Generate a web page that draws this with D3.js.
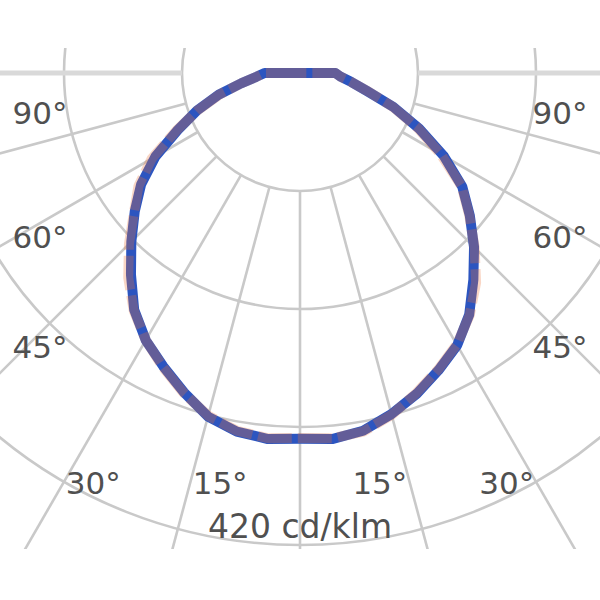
<!DOCTYPE html>
<html><head><meta charset="utf-8">
<script src="https://cdn.jsdelivr.net/npm/d3@7"></script>
<style>html,body{margin:0;padding:0;background:#fff}</style>
</head><body>
<svg id="c" width="600" height="600"></svg>
<script>
// gamma angles (degrees from nadir) and luminous intensities in cd/klm
const angles = [0,5,10,15,20,25,30,35,40,45,50,55,60,65,70,75,80,85,90];
const c0   = [434,436,431,419,405,389,373,350,320,292,263,235,197,156,118,82,62,48,42];
const c180 = [434,436,432,422,403,384,366,343,312,283,256,230,198,160,130,100,71,52,42];
const c90  = [433,435,432,420,404,388,372,351,325,293,262,234,193,154,117,83,62,48,42];
const c270 = [433,435,431,421,404,385,366,344,317,287,257,234,203,162,129,99,71,52,42];
const ringValues = [140,280,420,560];
const gridAngles = d3.range(-165,181,15);
const labelAngles = [90,60,45,30,15];
const unitLabel = "420 cd/klm";

const W = 600, H = 600, cx = 300, cy = 73;
const svg = d3.select("#c");
svg.append("defs").append("clipPath").attr("id","clip")
  .append("rect").attr("x",0).attr("y",48).attr("width",W).attr("height",501);

const r = d3.scaleLinear().domain([0,140]).range([0,118]);
const rad = d => d*Math.PI/180;

const root = svg.append("g").attr("clip-path","url(#clip)");
const g = root.append("g").attr("transform",`translate(${cx},${cy})`);

// rings
g.selectAll("circle.ring").data(ringValues).join("circle")
  .attr("class","ring").attr("r",d=>r(d))
  .attr("fill","none").attr("stroke","#c9c9c9").attr("stroke-width",2.6);

// radial lines
g.selectAll("line.spoke").data(gridAngles).join("line")
  .attr("class","spoke")
  .attr("x1",d=>Math.sin(rad(d))*r(ringValues[0]))
  .attr("y1",d=>Math.cos(rad(d))*r(ringValues[0]))
  .attr("x2",d=>Math.sin(rad(d))*900)
  .attr("y2",d=>Math.cos(rad(d))*900)
  .attr("stroke",d=>Math.abs(d)===90?"#d9d9d9":"#c9c9c9")
  .attr("stroke-width",d=>Math.abs(d)===90?5:2.6);

// curves
function pts(left, right){
  const p = [{a:2*Math.PI, v:0}];
  for(let i=angles.length-1;i>=0;i--) p.push({a:Math.PI+rad(angles[i]), v:left[i]});
  for(let i=1;i<angles.length;i++) p.push({a:Math.PI-rad(angles[i]), v:right[i]});
  p.push({a:0, v:0});
  return p;
}
const line = d3.lineRadial().angle(d=>d.a).radius(d=>r(d.v));
g.append("path").attr("d",line(pts(c180,c0)))
  .attr("fill","none").attr("stroke","#2c55c0").attr("stroke-width",10)
  .attr("stroke-linejoin","round");
g.append("path").attr("d",line(pts(c270,c90)))
  .attr("fill","none").attr("stroke","#ec7038").attr("stroke-width",10)
  .attr("stroke-opacity",0.29).attr("stroke-dasharray","34 6")
  .attr("stroke-linejoin","round");

// angle labels placed where spokes meet an inset frame
const frameX = 260, frameY = 410, sideNudge = 14, bottomNudge = 30, minY = 40;
function labelPos(deg, sign){
  const s = Math.sin(rad(deg)), c = Math.cos(rad(deg));
  const tx = s>1e-6 ? frameX/s : Infinity, ty = c>1e-6 ? frameY/c : Infinity;
  let x, y;
  if (tx <= ty){ x = frameX; y = Math.max(tx*c + sideNudge, minY); }
  else { x = ty*s - bottomNudge; y = frameY; }
  return [sign*x, y];
}
const labs = [];
labelAngles.forEach(a=>{ labs.push({a, s:-1}); labs.push({a, s:1}); });
g.selectAll("text.ang").data(labs).join("text")
  .attr("class","ang")
  .attr("x",d=>labelPos(d.a,d.s)[0]).attr("y",d=>labelPos(d.a,d.s)[1])
  .attr("text-anchor","middle").attr("dominant-baseline","central")
  .attr("font-family","DejaVu Sans").attr("font-size",31).attr("fill","#505050")
  .text(d=>d.a+"°");

svg.append("text").attr("x",cx).attr("y",526)
  .attr("text-anchor","middle").attr("dominant-baseline","central")
  .attr("font-family","DejaVu Sans").attr("font-size",33).attr("fill","#505050")
  .text(unitLabel);
</script>
</body></html>
